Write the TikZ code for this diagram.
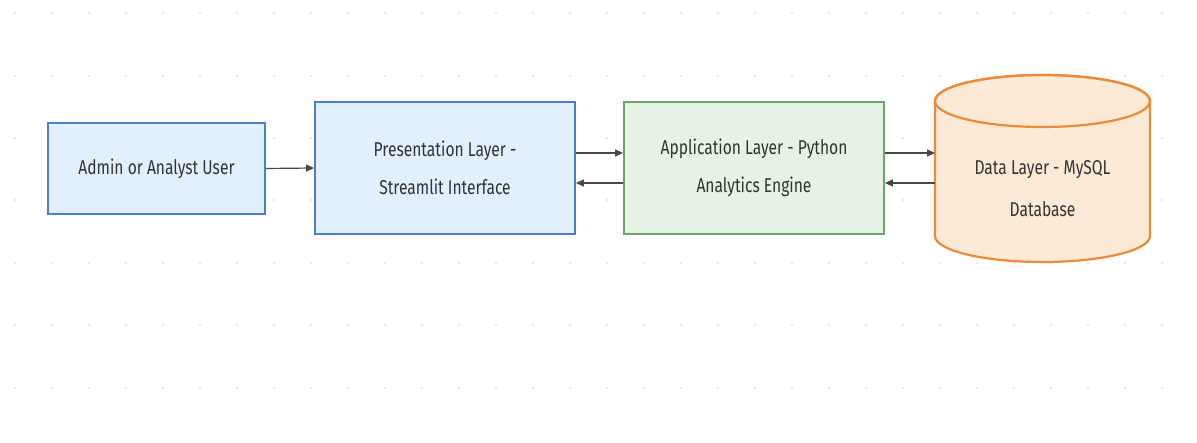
\documentclass[tikz,border=0pt]{standalone}
\usepackage{fontspec}
\setmainfont{Fira Sans}[FakeStretch=0.78]
\usetikzlibrary{arrows.meta,calc}
\definecolor{bluefill}{HTML}{E2EFFC}
\definecolor{blueline}{HTML}{4A80C9}
\definecolor{greenfill}{HTML}{E6F2E4}
\definecolor{greenline}{HTML}{6AA46A}
\definecolor{orangefill}{HTML}{FDEAD6}
\definecolor{orangeline}{HTML}{EC8A38}
\definecolor{txt}{HTML}{333333}
\definecolor{dotc}{HTML}{E6E6E6}
\tikzset{
  box/.style={draw, line width=1.8pt, text=txt, align=center,
    font=\fontsize{20}{38}\selectfont, inner sep=0pt},
  bluebox/.style={box, draw=blueline, fill=bluefill},
  greenbox/.style={box, draw=greenline, fill=greenfill},
  arr/.style={draw=txt!90, line width=1.2pt, -{Triangle[length=8pt,width=7pt]}}
}
\begin{document}
\begin{tikzpicture}[x=1pt,y=-1pt]
\useasboundingbox (0,0) rectangle (1197,443);
\fill[white] (0,0) rectangle (1197,443);
\foreach \r in {13,76,138,200,263,325,388} {
  \foreach \c in {0,...,32} {
    \fill[dotc] (15+37*\c,\r) circle (1.3);
  }
}
\node[bluebox, minimum width=217pt, minimum height=91pt] (a) at (156.5,168.5) {Admin or Analyst User};
\node[bluebox, minimum width=260pt, minimum height=132pt] (b) at (445,168) {Presentation Layer -\\Streamlit Interface};
\node[greenbox, minimum width=260pt, minimum height=132pt] (c) at (754,168) {\raisebox{0pt}{Application Layer - Python}\\Analytics Engine};
% cylinder
\coordinate (dw) at (935,168);
\draw[draw=orangeline, fill=orangefill, line width=2.2pt]
  (935,101) -- (935,236) arc[start angle=180, end angle=0, x radius=107.5, y radius=26]
  -- (1150,101) arc[start angle=0, end angle=-180, x radius=107.5, y radius=26] -- cycle;
\draw[draw=orangeline, line width=2.2pt] (1042.5,101) ellipse[x radius=107.5, y radius=26];
\node[text=txt, align=center, font=\fontsize{20}{42}\selectfont] (d) at (1042.5,189) {Data Layer - MySQL\\Database};
\draw[arr] (a.east) -- (b.west);
\draw[arr] ([yshift=15pt]b.east) -- ([yshift=15pt]c.west);
\draw[arr] ([yshift=-15pt]c.west) -- ([yshift=-15pt]b.east);
\draw[arr] ([yshift=15pt]c.east) -- ([yshift=15pt]dw);
\draw[arr] ([yshift=-15pt]dw) -- ([yshift=-15pt]c.east);
\end{tikzpicture}
\end{document}
